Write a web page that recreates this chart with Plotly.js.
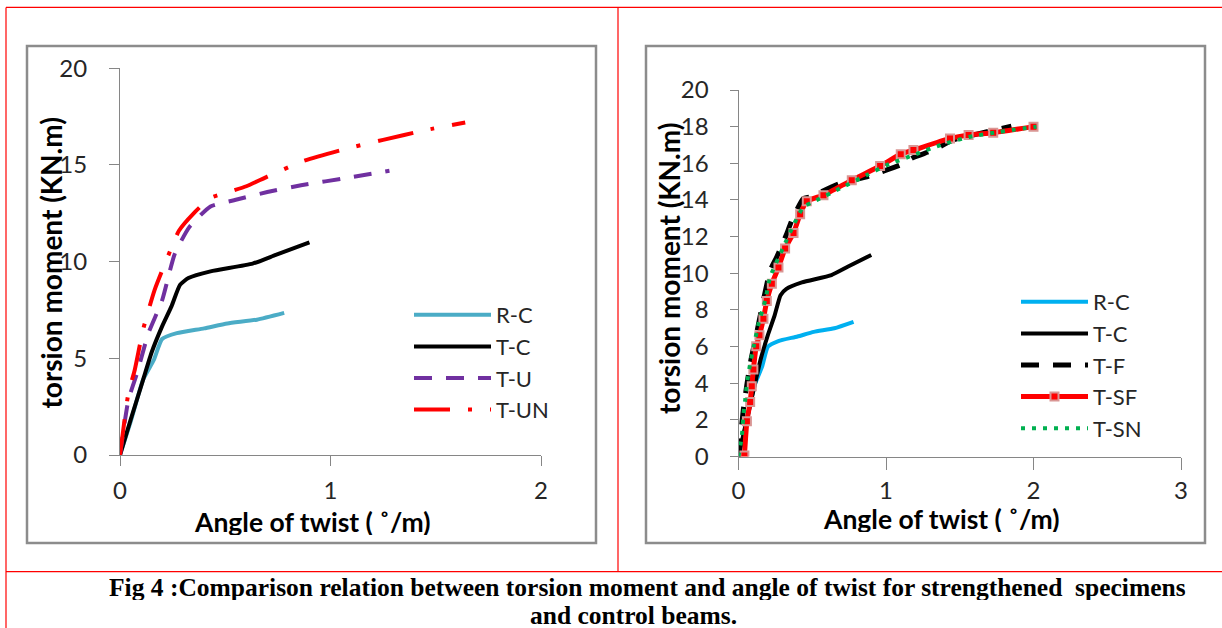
<!DOCTYPE html>
<html>
<head>
<meta charset="utf-8">
<script src="https://cdn.plot.ly/plotly-3.0.1.min.js"></script>
<style>html,body{margin:0;padding:0;background:#fff}#chart{width:1222px;height:628px}</style>
</head>
<body>
<div id="chart"></div>
<script>
// ---- data ----
const rcX  = [0, 0.05, 0.11, 0.16, 0.2, 0.27, 0.4, 0.51, 0.65, 0.78];
const rcY  = [0, 1.7, 3.9, 4.9, 6.0, 6.3, 6.55, 6.8, 7.0, 7.35];
const tcX  = [0, 0.05, 0.11, 0.15, 0.2, 0.245, 0.285, 0.325, 0.43, 0.63, 0.74, 0.9];
const tcY  = [0, 1.8, 3.9, 5.3, 6.65, 7.7, 8.8, 9.15, 9.5, 9.9, 10.35, 11.0];
const tuX  = [0, 0.04, 0.08, 0.135, 0.2, 0.26, 0.33, 0.43, 0.55, 0.7, 0.86, 1.09, 1.28];
const tuY  = [0, 2.85, 4.2, 6.3, 8.0, 10.4, 11.8, 12.85, 13.2, 13.6, 13.95, 14.35, 14.7];
const tunX = [0, 0.04, 0.07, 0.11, 0.165, 0.24, 0.28, 0.35, 0.43, 0.5, 0.6, 0.7, 0.87, 1.06, 1.25, 1.45, 1.64];
const tunY = [0, 3.2, 4.4, 6.5, 8.55, 10.6, 11.6, 12.5, 13.3, 13.55, 13.9, 14.4, 15.2, 15.8, 16.3, 16.8, 17.2];
const tfX  = [0, 0.035, 0.079, 0.113, 0.215, 0.26, 0.328, 0.362, 0.44, 0.485, 0.689, 0.87, 0.971, 1.095, 1.186, 1.32, 1.457, 1.637, 1.85];
const tfY  = [0, 2.7, 5.06, 6.34, 10.16, 10.9, 12.17, 12.9, 14.08, 14.17, 14.9, 15.26, 15.54, 15.9, 16.32, 16.72, 17.27, 17.63, 18.03];
const tsfX = [0.04, 0.057, 0.079, 0.09, 0.101, 0.12, 0.142, 0.169, 0.192, 0.226, 0.271, 0.316, 0.373, 0.418, 0.463, 0.576, 0.768, 0.96, 1.1, 1.186, 1.434, 1.56, 1.727, 2.0];
const tsfY = [0.05, 1.93, 2.97, 3.83, 4.75, 6.01, 6.61, 7.52, 8.49, 9.43, 10.31, 11.35, 12.2, 13.22, 13.93, 14.26, 15.08, 15.85, 16.5, 16.72, 17.36, 17.55, 17.67, 18.0];
const tsnX = [0, 0.023, 0.034, 0.045, 0.057, 0.079, 0.102, 0.136, 0.181, 0.215, 0.305, 0.373, 0.44, 0.508, 0.689, 0.87, 1.005, 1.186, 1.389, 1.57, 1.773, 2.02];
const tsnY = [0, 1.15, 2.33, 3.06, 3.97, 5.06, 5.97, 7.25, 8.52, 9.8, 11.44, 12.62, 13.62, 13.9, 14.63, 15.36, 15.9, 16.45, 17.05, 17.45, 17.72, 18.0];

const leftTicksX = [0, 1, 2];
const leftTicksY = [0, 5, 10, 15, 20];
const rightTicksX = [0, 1, 2, 3];
const rightTicksY = [0, 2, 4, 6, 8, 10, 12, 14, 16, 18, 20];

const yTitle = 'torsion moment (KN.m)';
const xTitle = 'Angle of twist ( \u02DA/m)';
const caption1 = 'Fig 4 :Comparison relation between torsion moment and angle of twist for strengthened\u00a0 specimens';
const caption2 = 'and control beams.';

// ---- drawing ----
const W = 1222, H = 628;
const px = v => v / W;
const py = v => 1 - v / H;
const FONT = 'Lato, "Open Sans", sans-serif';

function tr(x, y, name, color, width, dash, axis, legend, extra) {
  return Object.assign({
    type: 'scatter', mode: 'lines', x: x, y: y, name: name,
    line: {color: color, width: width, dash: dash, shape: 'spline', smoothing: 0.5},
    xaxis: axis[0], yaxis: axis[1], legend: legend, legendgroup: legend + name,
    hoverinfo: 'skip'
  }, extra || {});
}

const L = ['x', 'y'], R = ['x2', 'y2'];
const data = [
  tr(rcX, rcY, 'R-C', '#4bacc6', 4, 'solid', L, 'legend'),
  tr(tcX, tcY, 'T-C', '#000000', 4, 'solid', L, 'legend'),
  tr(tuX, tuY, 'T-U', '#7030a0', 4, '18px,14px', L, 'legend'),
  tr(tunX, tunY, 'T-UN', '#ff0000', 4, '36px,18px,4px,18px', L, 'legend'),
  tr(rcX, rcY, 'R-C', '#00b0f0', 4, 'solid', R, 'legend2'),
  tr(tcX, tcY, 'T-C', '#000000', 4, 'solid', R, 'legend2'),
  tr(tfX, tfY, 'T-F', '#000000', 5, '18px,14px', R, 'legend2'),
  tr(tsfX, tsfY, 'T-SF', '#ff0000', 5, 'solid', R, 'legend2',
     {mode: 'lines+markers', marker: {symbol: 'square', size: 8, color: '#ff0000', line: {color: '#d99694', width: 2}}}),
  tr(tsnX, tsnY, 'T-SN', '#00b050', 4, '4px,7px', R, 'legend2')
];

const axisCommon = {
  showline: true, linecolor: '#868686', linewidth: 1, showgrid: false, zeroline: false,
  ticks: 'outside', tickcolor: '#868686', tickwidth: 1,
  tickfont: {family: FONT, size: 24, color: '#262626'}, fixedrange: true
};
const xTitleFont = {family: FONT, size: 26.5, color: '#000000', weight: 'bold'};
const yTitleFont = {family: FONT, size: 28, color: '#000000', weight: 'bold'};
const capFont = {family: '"Liberation Serif", "Times New Roman", serif', size: 25.5, color: '#000', weight: 'bold'};

function ann(text, x, y, font, angle, h) {
  const a = {text: text, xref: 'paper', yref: 'paper', x: px(x), y: py(y), xanchor: 'center', yanchor: 'middle',
          showarrow: false, font: font, textangle: angle || 0, borderpad: 0};
  if (h) a.height = h;
  return a;
}

const layout = {
  width: W, height: H, margin: {l: 0, r: 0, t: 0, b: 0},
  paper_bgcolor: '#ffffff', plot_bgcolor: 'rgba(0,0,0,0)',
  xaxis: Object.assign({}, axisCommon, {domain: [px(120), px(541)], range: [0, 2], tickvals: leftTicksX,
    ticklen: 10, ticklabelstandoff: 4, anchor: 'y'}),
  yaxis: Object.assign({}, axisCommon, {domain: [py(455), py(68.3)], range: [0, 20], tickvals: leftTicksY,
    ticklen: 10, ticklabelstandoff: 17, anchor: 'x'}),
  xaxis2: Object.assign({}, axisCommon, {domain: [px(738.5), px(1181)], range: [0, 3], tickvals: rightTicksX,
    ticklen: 12, ticklabelstandoff: 1, anchor: 'y2'}),
  yaxis2: Object.assign({}, axisCommon, {domain: [py(456.5), py(90)], range: [0, 20], tickvals: rightTicksY,
    ticklen: 8, ticklabelstandoff: 16, anchor: 'x2'}),
  legend: {x: px(409), y: py(294), xanchor: 'left', yanchor: 'top', bgcolor: 'rgba(0,0,0,0)',
    font: {family: FONT, size: 22, color: '#262626'}, itemwidth: 77, tracegroupgap: 0, traceorder: 'normal'},
  legend2: {x: px(1016), y: py(281), xanchor: 'left', yanchor: 'top', bgcolor: 'rgba(0,0,0,0)',
    font: {family: FONT, size: 22, color: '#262626'}, itemwidth: 67, tracegroupgap: 0, traceorder: 'normal'},
  showlegend: true,
  shapes: [
    {type: 'line', xref: 'paper', yref: 'paper', x0: px(6), x1: px(1222), y0: py(7.4), y1: py(7.4), line: {color: '#ff0000', width: 1.2}},
    {type: 'line', xref: 'paper', yref: 'paper', x0: px(6), x1: px(6), y0: py(7.4), y1: py(628), line: {color: '#ff0000', width: 1.2}},
    {type: 'line', xref: 'paper', yref: 'paper', x0: px(618), x1: px(618), y0: py(7.4), y1: py(571.6), line: {color: '#ff0000', width: 1.2}},
    {type: 'line', xref: 'paper', yref: 'paper', x0: px(6), x1: px(1222), y0: py(571.6), y1: py(571.6), line: {color: '#ff0000', width: 1.2}},
    {type: 'rect', xref: 'paper', yref: 'paper', x0: px(27), x1: px(596), y0: py(543), y1: py(46), line: {color: '#8c8c8c', width: 2.5}},
    {type: 'rect', xref: 'paper', yref: 'paper', x0: px(646), x1: px(1205), y0: py(543), y1: py(46), line: {color: '#8c8c8c', width: 2.5}}
  ],
  annotations: [
    ann(xTitle, 312, 522, xTitleFont, 0, 26),
    ann(yTitle, 50, 263.5, yTitleFont, -90),
    ann(xTitle, 941.5, 519, xTitleFont, 0, 26),
    ann(yTitle, 669, 269, yTitleFont, -90),
    ann(caption1, 647.5, 586.5, capFont, 0, 26),
    ann(caption2, 633, 614.5, capFont, 0, 26)
  ]
};

Plotly.newPlot('chart', data, layout, {displayModeBar: false, staticPlot: true});
</script>
</body>
</html>
